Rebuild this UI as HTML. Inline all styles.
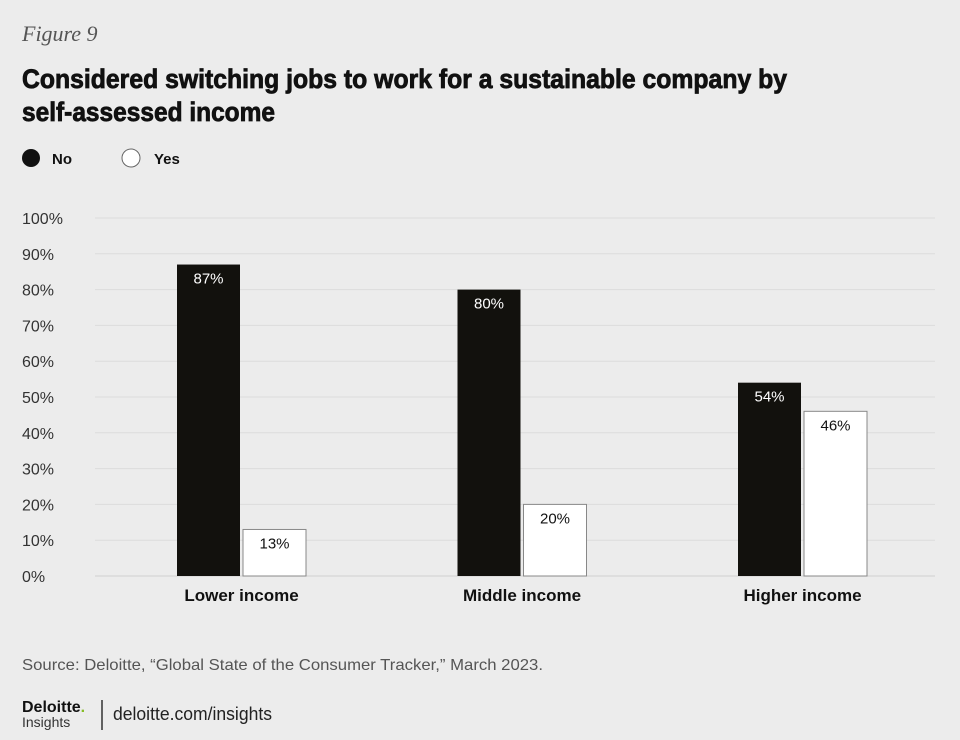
<!DOCTYPE html>
<html><head><meta charset="utf-8"><style>
html,body{margin:0;padding:0;background:#ececec;}
svg{display:block;}
</style></head><body>
<svg id="c" width="960" height="740" viewBox="0 0 960 740" xmlns="http://www.w3.org/2000/svg">
<rect width="960" height="740" fill="#ececec"/>
<text x="22" y="41" font-family="Liberation Serif, serif" font-style="italic" font-size="22" fill="#555">Figure 9</text>
<text x="22" y="88" font-family="Liberation Sans, sans-serif" font-weight="bold" font-size="27" fill="#111" stroke="#111" stroke-width="0.8" textLength="765" lengthAdjust="spacingAndGlyphs">Considered switching jobs to work for a sustainable company by</text>
<text x="22" y="121" font-family="Liberation Sans, sans-serif" font-weight="bold" font-size="27" fill="#111" stroke="#111" stroke-width="0.8" textLength="253" lengthAdjust="spacingAndGlyphs">self-assessed income</text>
<g>
<circle cx="31" cy="158" r="9" fill="#111"/>
<text x="52" y="164" font-family="Liberation Sans, sans-serif" font-weight="bold" font-size="15" fill="#111">No</text>
<circle cx="131" cy="158" r="9" fill="#fff" stroke="#666" stroke-width="1"/>
<text x="154" y="164" font-family="Liberation Sans, sans-serif" font-weight="bold" font-size="15" fill="#111">Yes</text>
</g>
<g id="grid"></g>
<g id="bars"></g>
<text x="22" y="670" font-family="Liberation Sans, sans-serif" font-size="16" fill="#555" textLength="521" lengthAdjust="spacingAndGlyphs">Source: Deloitte, “Global State of the Consumer Tracker,” March 2023.</text>
<text x="22" y="712" font-family="Liberation Sans, sans-serif" font-weight="bold" font-size="16" fill="#111">Deloitte<tspan fill="#86bc25">.</tspan></text>
<text x="22" y="727" font-family="Liberation Sans, sans-serif" font-size="14" fill="#333">Insights</text>
<line x1="102" y1="700" x2="102" y2="730" stroke="#333" stroke-width="1.5"/>
<text x="113" y="720" font-family="Liberation Sans, sans-serif" font-size="18" fill="#222" textLength="159" lengthAdjust="spacingAndGlyphs">deloitte.com/insights</text>
</svg>
<script>
const categories = ["Lower income", "Middle income", "Higher income"];
const noValues = [87, 80, 54];
const yesValues = [13, 20, 46];
const yTicks = [0, 10, 20, 30, 40, 50, 60, 70, 80, 90, 100];

const NS = "http://www.w3.org/2000/svg";
const y0 = 576, y100 = 218, xL = 95, xR = 935;
const yScale = v => y0 - (v / 100) * (y0 - y100);
const groupCenter = i => 241.5 + i * 280.5;
const grid = document.getElementById('grid');
const bars = document.getElementById('bars');
function mk(tag, attrs, parent){const e=document.createElementNS(NS,tag);for(const k in attrs)e.setAttribute(k,attrs[k]);parent.appendChild(e);return e;}
yTicks.forEach(t=>{
  const y=yScale(t);
  const l=mk('line',{x1:xL,x2:xR,y1:y,y2:y,stroke:t===0?'#cfcfcf':'#dcdcdc','stroke-width':1},grid);
  
  
  const tx=mk('text',{x:22,y:y+6,'font-family':'Liberation Sans, sans-serif','font-size':16,fill:'#333'},grid);
  tx.textContent=t+'%';
  
  
});
categories.forEach((c,i)=>{
  const cx=groupCenter(i), w=63;
  const yn=yScale(noValues[i]);
  const bn=mk('rect',{x:cx-w-1.5,y:yn,width:w,height:y0-yn,fill:'#12110d'},bars);
  
  
  const ln=mk('text',{x:cx-w/2-1.5,y:yn+19,'text-anchor':'middle','font-family':'Liberation Sans, sans-serif','font-size':15,fill:'#fff'},bars);
  ln.textContent=noValues[i]+'%';
  
  
  const yy=yScale(yesValues[i]);
  const by=mk('rect',{x:cx+1.5,y:yy,width:w,height:y0-yy,fill:'#fff',stroke:'#888','stroke-width':1},bars);
  
  
  const ly=mk('text',{x:cx+1.5+w/2,y:yy+19,'text-anchor':'middle','font-family':'Liberation Sans, sans-serif','font-size':15,fill:'#111'},bars);
  ly.textContent=yesValues[i]+'%';
  
  
  const cl=mk('text',{x:cx,y:601,'text-anchor':'middle','font-family':'Liberation Sans, sans-serif','font-weight':'bold','font-size':17,fill:'#111'},bars);
  cl.textContent=c;
  
  
});
</script>
</body></html>
